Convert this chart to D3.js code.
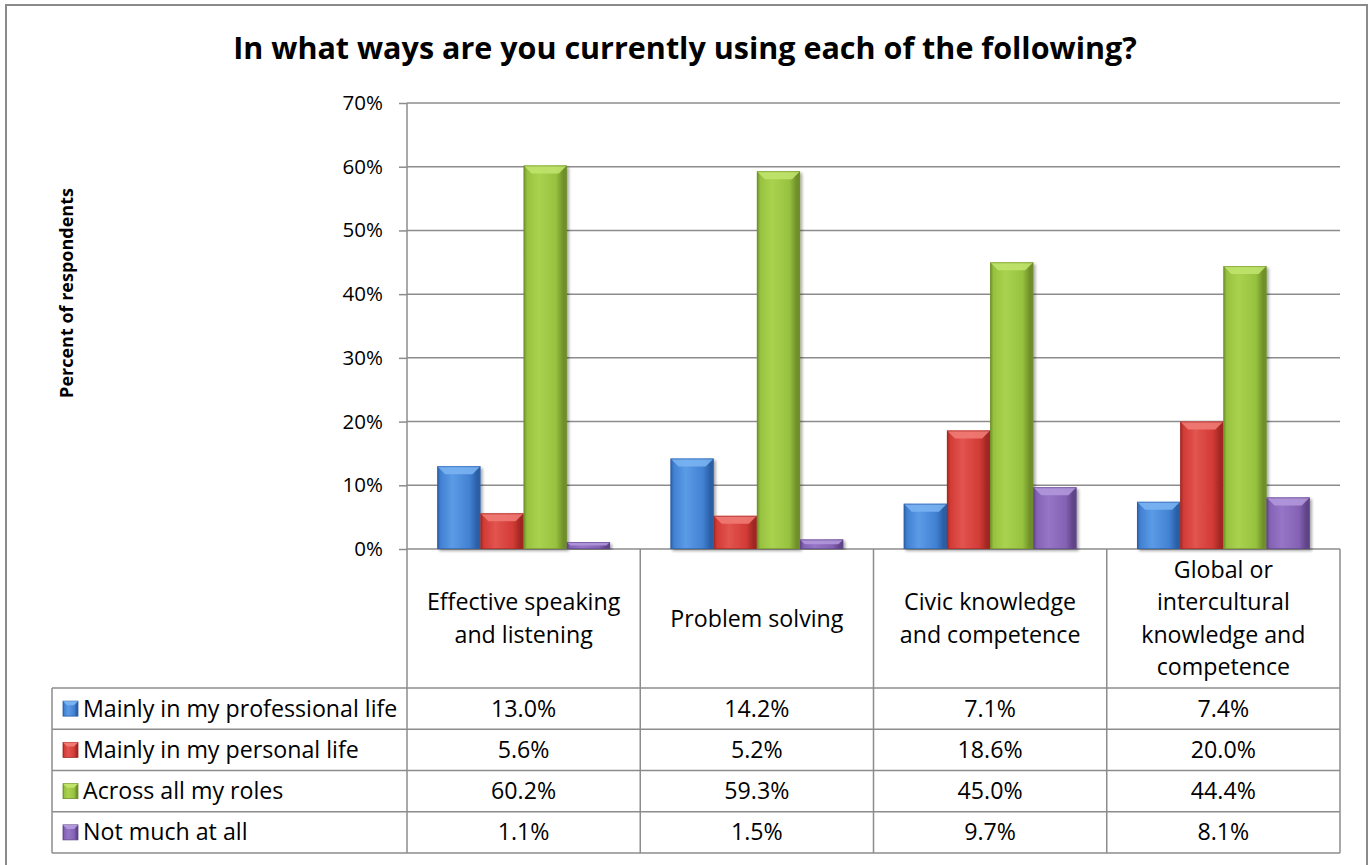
<!DOCTYPE html>
<html>
<head>
<meta charset="utf-8">
<script src="https://cdn.jsdelivr.net/npm/d3@7"></script>
<style>
  html, body { margin: 0; padding: 0; background: #fff; }
  svg { display: block; font-family: "Open Sans", Lato, sans-serif; }
</style>
</head>
<body>
<svg id="chart" width="1369" height="865"></svg>
<script>
// Survey categories (each may wrap onto several lines in the table header)
const categories = [
  ["Effective speaking", "and listening"],
  ["Problem solving"],
  ["Civic knowledge", "and competence"],
  ["Global or", "intercultural", "knowledge and", "competence"]
];
const seriesNames = [
  "Mainly in my professional life",
  "Mainly in my personal life",
  "Across all my roles",
  "Not much at all"
];
const professional = [13.0, 14.2, 7.1, 7.4];
const personal     = [5.6, 5.2, 18.6, 20.0];
const acrossRoles  = [60.2, 59.3, 45.0, 44.4];
const notMuch      = [1.1, 1.5, 9.7, 8.1];
const yTicks = [0, 10, 20, 30, 40, 50, 60, 70];

const seriesValues = [professional, personal, acrossRoles, notMuch];

// Palette per series: body, light highlight, dark edge, top bevel
const palette = [
  { body: "#4281d2", light: "#5b9be6", dark: "#2b5fa6", top: "#79b3f2" },
  { body: "#d33b36", light: "#e2544f", dark: "#a12823", top: "#ef7a74" },
  { body: "#97c23f", light: "#a9d24f", dark: "#6f8f2a", top: "#c0e36c" },
  { body: "#8462b4", light: "#9675c6", dark: "#5f4488", top: "#b197dc" }
];

const svg = d3.select("#chart");
const defs = svg.append("defs");

// Layout of the plot area and the data table
const plotLeft = 407, plotRight = 1340;
const plotTop = 103, plotBottom = 549;
const legendLeft = 52;
const headerBottom = 688;
const tableBottom = 853;
const gridColor = "#8c8c8c";
const cellFont = 23.2;

// Outer chart frame
svg.append("rect")
  .attr("x", 6).attr("y", 5).attr("width", 1361).attr("height", 880)
  .attr("fill", "#fff").attr("stroke", "#8a8a8a").attr("stroke-width", 2);

const x0 = d3.scaleBand()
  .domain(d3.range(categories.length))
  .range([plotLeft, plotRight])
  .paddingInner(0).paddingOuter(0);

const x1 = d3.scaleBand()
  .domain(d3.range(seriesNames.length))
  .range([0, x0.bandwidth()])
  .paddingOuter(0.7).paddingInner(0);

const y = d3.scaleLinear().domain([0, 70]).range([plotBottom, plotTop]);

// Gradients for the bevelled bars
palette.forEach((p, i) => {
  const g = defs.append("linearGradient").attr("id", "bar" + i)
    .attr("x1", "0").attr("x2", "1").attr("y1", "0").attr("y2", "0");
  g.append("stop").attr("offset", "0").attr("stop-color", p.dark);
  g.append("stop").attr("offset", "0.08").attr("stop-color", p.body);
  g.append("stop").attr("offset", "0.35").attr("stop-color", p.light);
  g.append("stop").attr("offset", "0.75").attr("stop-color", p.body);
  g.append("stop").attr("offset", "0.92").attr("stop-color", p.dark);
  g.append("stop").attr("offset", "1").attr("stop-color", p.dark);
});
const shadow = defs.append("filter").attr("id", "shadow")
  .attr("x", "-20%").attr("y", "-5%").attr("width", "150%").attr("height", "115%");
shadow.append("feGaussianBlur").attr("in", "SourceAlpha").attr("stdDeviation", 1.5);
shadow.append("feOffset").attr("dx", 1.5).attr("dy", 1.5).attr("result", "blur");
shadow.append("feComponentTransfer").append("feFuncA").attr("type", "linear").attr("slope", 0.35);
const merge = shadow.append("feMerge");
merge.append("feMergeNode");
merge.append("feMergeNode").attr("in", "SourceGraphic");

// Y axis ticks and labels
const yAxis = d3.axisLeft(y).tickValues(yTicks)
  .tickFormat(d => d + "%").tickSize(8).tickPadding(16);
const ax = svg.append("g").attr("transform", `translate(${plotLeft},0)`).call(yAxis);
ax.select(".domain").remove();
ax.selectAll(".tick line").attr("stroke", gridColor).attr("stroke-width", 1.5);
ax.selectAll(".tick text")
  .attr("font-family", "'Open Sans', sans-serif").attr("font-size", 20.5).attr("fill", "#000");

// Horizontal gridlines
svg.append("g").selectAll("line").data(yTicks).join("line")
  .attr("x1", plotLeft).attr("x2", plotRight)
  .attr("y1", d => y(d)).attr("y2", d => y(d))
  .attr("stroke", gridColor).attr("stroke-width", 1.5);

// Bars
const barLayer = svg.append("g");
categories.forEach((c, ci) => {
  seriesValues.forEach((vals, si) => {
    const v = vals[ci];
    const bx = x0(ci) + x1(si);
    const bw = x1.bandwidth();
    const by = y(v);
    const bh = plotBottom - by;
    const p = palette[si];
    const g = barLayer.append("g").attr("filter", "url(#shadow)");
    g.append("rect")
      .attr("x", bx).attr("y", by).attr("width", bw).attr("height", bh)
      .attr("fill", `url(#bar${si})`);
    const b = Math.min(8, bh / 2, bw / 4);
    g.append("polygon")
      .attr("points", [[bx, by], [bx + bw, by], [bx + bw - b, by + b], [bx + b, by + b]].map(d => d.join(",")).join(" "))
      .attr("fill", p.top).attr("opacity", 0.9);
    g.append("rect")
      .attr("x", bx + 0.5).attr("y", by + 0.5).attr("width", bw - 1).attr("height", Math.max(0, bh - 1))
      .attr("fill", "none").attr("stroke", p.dark).attr("stroke-opacity", 0.6).attr("stroke-width", 1);
  });
});

// Data table
const rowH = (tableBottom - headerBottom) / seriesNames.length;
const table = svg.append("g").attr("stroke", gridColor).attr("stroke-width", 1.5);
// vertical axis line continuing into the table
table.append("line").attr("x1", plotLeft).attr("x2", plotLeft)
  .attr("y1", plotTop).attr("y2", tableBottom);
// column separators
d3.range(1, categories.length + 1).forEach(i => {
  const xx = i === categories.length ? plotRight : x0(i);
  table.append("line").attr("x1", xx).attr("x2", xx)
    .attr("y1", plotBottom).attr("y2", tableBottom);
});
// row lines
d3.range(seriesNames.length + 1).forEach(r => {
  const yy = headerBottom + r * rowH;
  table.append("line").attr("x1", legendLeft).attr("x2", plotRight)
    .attr("y1", yy).attr("y2", yy);
});
table.append("line").attr("x1", legendLeft).attr("x2", legendLeft)
  .attr("y1", headerBottom).attr("y2", tableBottom);

// Category header text
const lineH = 32.5;
categories.forEach((lines, ci) => {
  const cx = x0(ci) + x0.bandwidth() / 2;
  const cy = (plotBottom + headerBottom) / 2;
  const t = svg.append("text").attr("text-anchor", "middle")
    .attr("font-size", cellFont).attr("fill", "#000");
  lines.forEach((ln, li) => {
    t.append("tspan").attr("x", cx)
      .attr("y", cy + (li - (lines.length - 1) / 2) * lineH + 8)
      .text(ln);
  });
});

// Legend rows with keys and values
seriesNames.forEach((name, si) => {
  const rowMid = headerBottom + (si + 0.5) * rowH;
  const p = palette[si];
  const k = 15;
  svg.append("rect")
    .attr("x", 63).attr("y", rowMid - k / 2).attr("width", k).attr("height", k)
    .attr("fill", `url(#bar${si})`).attr("stroke", p.dark).attr("stroke-width", 0.8);
  svg.append("polygon")
    .attr("points", `63,${rowMid - k / 2} ${63 + k},${rowMid - k / 2} ${63 + k - 4},${rowMid - k / 2 + 4} ${67},${rowMid - k / 2 + 4}`)
    .attr("fill", p.top);
  svg.append("text").attr("x", 83).attr("y", rowMid + 8)
    .attr("font-size", cellFont).attr("fill", "#000").text(name);
  seriesValues[si].forEach((v, ci) => {
    svg.append("text")
      .attr("x", x0(ci) + x0.bandwidth() / 2).attr("y", rowMid + 8)
      .attr("text-anchor", "middle").attr("font-size", cellFont).attr("fill", "#000")
      .text(v.toFixed(1) + "%");
  });
});

// Titles
svg.append("text").attr("x", 685).attr("y", 59)
  .attr("text-anchor", "middle").attr("font-size", 30.5).attr("font-weight", "bold")
  .attr("fill", "#000")
  .text("In what ways are you currently using each of the following?");

svg.append("text")
  .attr("transform", "translate(73,293) rotate(-90)")
  .attr("text-anchor", "middle").attr("font-size", 18).attr("font-weight", "bold")
  .attr("fill", "#000")
  .text("Percent of respondents");
</script>
</body>
</html>
